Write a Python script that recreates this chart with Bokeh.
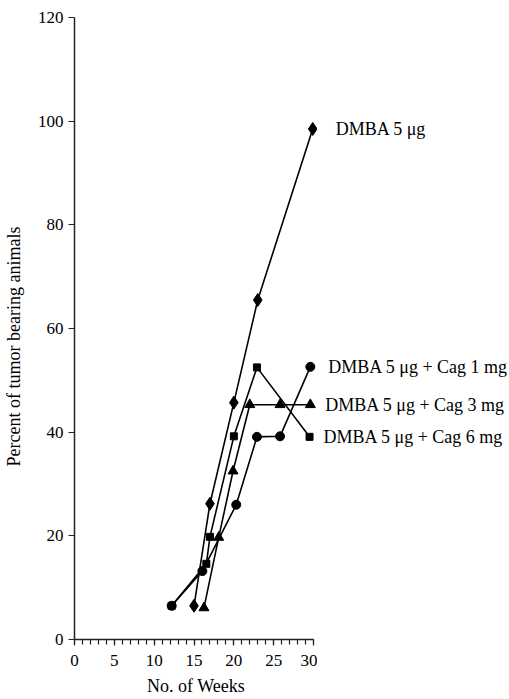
from bokeh.plotting import figure
from bokeh.layouts import row
from bokeh.models import ColumnDataSource, SingleIntervalTicker, Range1d
from bokeh.core.properties import value
from bokeh.embed import file_html
from bokeh.resources import INLINE

# ---- data ----
weeks_dmba = [15, 17, 20, 23, 29.9]
pct_dmba = [6.5, 26.2, 45.7, 65.5, 98.5]

weeks_cag1 = [12.2, 16.05, 20.3, 22.9, 25.8, 29.6]
pct_cag1 = [6.5, 13.2, 26.0, 39.1, 39.2, 52.6]

weeks_cag3 = [16.25, 18.1, 19.9, 22.0, 25.8, 29.6]
pct_cag3 = [6.1, 19.7, 32.5, 45.3, 45.3, 45.3]

weeks_cag6 = [12.2, 16.55, 17.0, 20.0, 22.9, 29.5]
pct_cag6 = [6.5, 14.6, 19.8, 39.2, 52.5, 39.1]

series_labels = ["DMBA 5 μg", "DMBA 5 μg + Cag 1 mg", "DMBA 5 μg + Cag 3 mg", "DMBA 5 μg + Cag 6 mg"]
x_ticks_interval = 5
y_ticks_interval = 20

FONT = "Liberation Serif"

# layout sizes
H = 699
LEFT, TOP, BOTTOM = 73, 17, 60
MAIN_W = 317
SIDE_W = 509 - MAIN_W
X_MAX = 30.5
px_per_week = (MAIN_W - LEFT) / X_MAX

y_rng = Range1d(0, 120)
p = figure(width=MAIN_W, height=H, output_backend="svg", toolbar_location=None,
           x_range=Range1d(0, X_MAX), y_range=y_rng,
           min_border_left=LEFT, min_border_right=0, min_border_top=TOP, min_border_bottom=BOTTOM)
p.outline_line_color = None
p.xgrid.visible = False
p.ygrid.visible = False

series = [
    (weeks_dmba, pct_dmba, "diamond", 13),
    (weeks_cag1, pct_cag1, "circle", 9),
    (weeks_cag3, pct_cag3, "triangle", 10),
    (weeks_cag6, pct_cag6, "square", 7),
]
for xs, ys, marker, size in series:
    src = ColumnDataSource(dict(x=xs, y=ys))
    p.line("x", "y", source=src, line_color="black", line_width=1.6)
    p.scatter("x", "y", source=src, marker=marker, size=size,
              fill_color="black", line_color="black")

# axes
xa = p.xaxis[0]
xa.ticker = SingleIntervalTicker(interval=x_ticks_interval, num_minor_ticks=5)
xa.bounds = (0, 30)
xa.axis_label = "No. of Weeks"
ya = p.yaxis[0]
ya.ticker = SingleIntervalTicker(interval=y_ticks_interval, num_minor_ticks=0)
ya.bounds = (0, 120)
ya.axis_label = "Percent of tumor bearing animals" + "\u00a0" * 8

for ax in (xa, ya):
    ax.axis_line_color = "#222222"
    ax.axis_line_width = 1.5
    ax.major_tick_line_color = "#222222"
    ax.minor_tick_line_color = "#222222"
    ax.major_tick_line_width = 1.2
    ax.minor_tick_line_width = 1.2
    ax.major_tick_in = 0
    ax.major_tick_out = 6
    ax.minor_tick_in = 0
    ax.minor_tick_out = 5
    ax.major_label_text_font = FONT
    ax.major_label_text_font_size = "17px"
    ax.major_label_text_color = "black"
    ax.axis_label_text_font = FONT
    ax.axis_label_text_font_size = "18px"
    ax.axis_label_text_font_style = "normal"
    ax.axis_label_text_color = "black"

xa.major_label_standoff = 9
xa.axis_label_standoff = 7
ya.minor_tick_out = 0
ya.major_label_standoff = 5
ya.axis_label_standoff = 11

# side panel for the series labels, continuing the week scale
p2 = figure(width=SIDE_W, height=H, output_backend="svg", toolbar_location=None,
            x_range=Range1d(X_MAX, X_MAX + SIDE_W / px_per_week), y_range=y_rng,
            x_axis_type=None, y_axis_type=None,
            min_border_left=0, min_border_right=0, min_border_top=TOP, min_border_bottom=BOTTOM)
p2.outline_line_color = None
p2.xgrid.visible = False
p2.ygrid.visible = False

label_src = ColumnDataSource(dict(
    x=[s[0][-1] for s in series],
    y=[s[1][-1] for s in series],
    text=series_labels,
    xoff=[23, 18, 15, 14],
))
p2.text("x", "y", text="text", x_offset="xoff", source=label_src,
        text_font=value(FONT), text_font_size="18px", text_color="black",
        text_baseline="middle", text_align="left")

layout = row(p, p2, spacing=0)
open("out.html", "w").write(file_html(layout, INLINE))
